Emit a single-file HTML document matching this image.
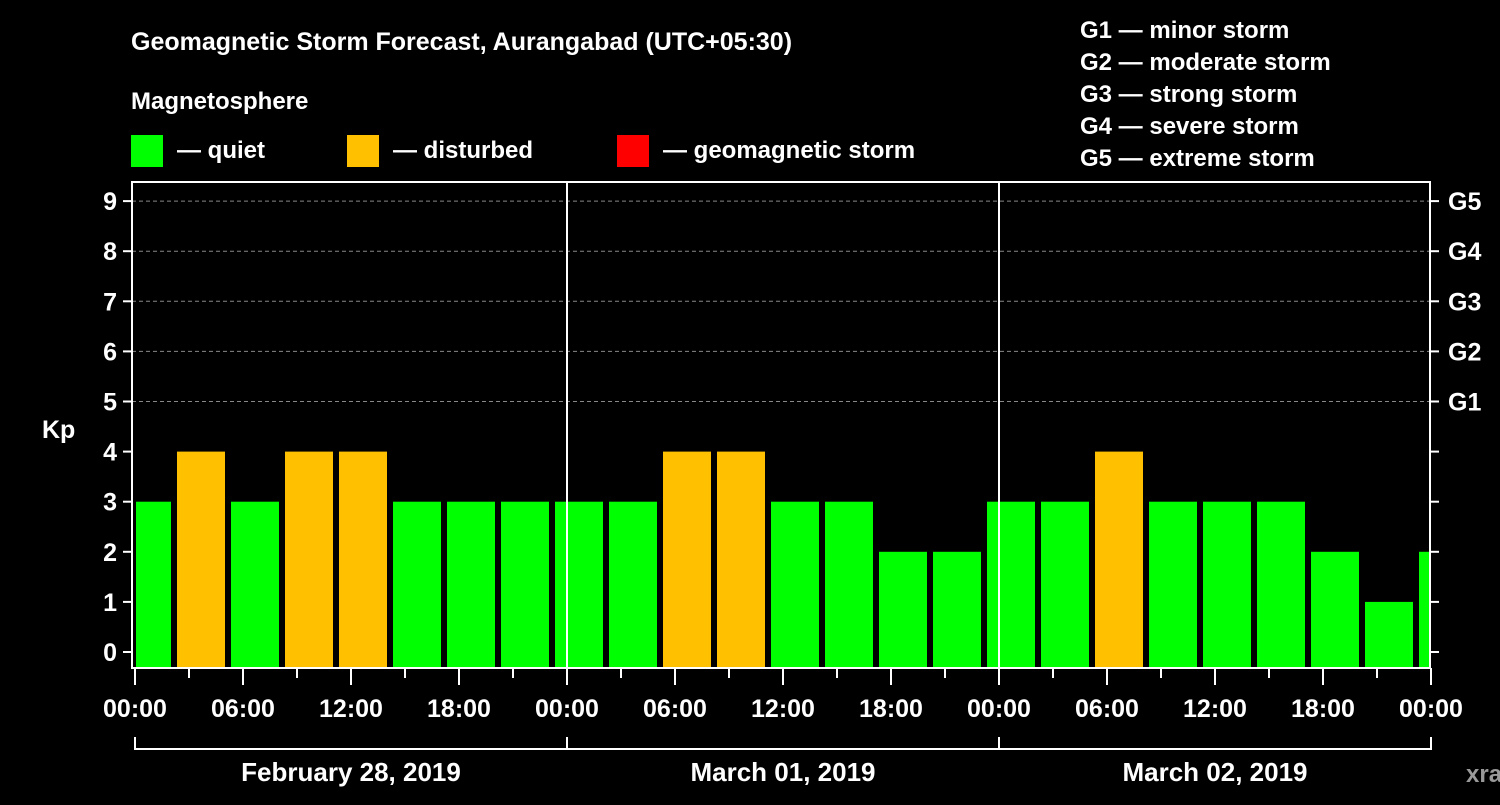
<!DOCTYPE html>
<html><head><meta charset="utf-8">
<style>
body{margin:0;background:#000;width:1500px;height:800px;overflow:hidden;font-family:"Liberation Sans",sans-serif;font-weight:bold;color:#fff}
svg text{font-family:"Liberation Sans",sans-serif;font-weight:bold;fill:#fff}
</style></head><body>
<svg width="1500" height="800">
<text x="131" y="50" font-size="25">Geomagnetic Storm Forecast, Aurangabad (UTC+05:30)</text>
<text x="131" y="109" font-size="24">Magnetosphere</text>
<g><rect x="131" y="135" width="32" height="32" fill="#00ff00"/><text x="177" y="158" font-size="24">— quiet</text></g>
<g><rect x="347" y="135" width="32" height="32" fill="#ffc000"/><text x="393" y="158" font-size="24">— disturbed</text></g>
<g><rect x="617" y="135" width="32" height="32" fill="#ff0000"/><text x="663" y="158" font-size="24">— geomagnetic storm</text></g>
<g font-size="24">
<text x="1080" y="38">G1 — minor storm</text>
<text x="1080" y="70">G2 — moderate storm</text>
<text x="1080" y="102">G3 — strong storm</text>
<text x="1080" y="134">G4 — severe storm</text>
<text x="1080" y="166">G5 — extreme storm</text>
</g>
<text x="42" y="438" font-size="25">Kp</text>
<text x="1466" y="782" font-size="24" fill="#888" style="fill:#999">xras.ru</text>
<g id="plot"></g>
</svg>
<script>
const kpValues=[3,4,3,4,4,3,3,3,3,3,4,4,3,3,2,2,3,3,4,3,3,3,2,1,2];
const yTicks=[0,1,2,3,4,5,6,7,8,9];
const gLabels=["G1","G2","G3","G4","G5"];
const xTickLabels=["00:00","06:00","12:00","18:00","00:00","06:00","12:00","18:00","00:00","06:00","12:00","18:00","00:00"];
const dayLabels=["February 28, 2019","March 01, 2019","March 02, 2019"];
const firstBarHour=-0.8333;
const ns="http://www.w3.org/2000/svg";
const g=document.getElementById('plot');
const L=132,R=1430,T=182,B=668;
const x0=135,pxH=18;
const X=h=>x0+h*pxH;
const Y=v=>652-v*50.1;
function el(t,a,p){const e=document.createElementNS(ns,t);for(const k in a)e.setAttribute(k,a[k]);(p||g).appendChild(e);return e;}
// grid
[5,6,7,8,9].forEach(v=>{const l=el('line',{x1:L,x2:R,y1:Y(v),y2:Y(v),stroke:'#888','stroke-dasharray':'4,3','stroke-width':1});

});
// bars
const clip=el('clipPath',{id:'pc'});el('rect',{x:136,y:T,width:R-136-1,height:B-T},clip);
const bg=el('g',{'clip-path':'url(#pc)'});
kpValues.forEach((v,i)=>{const s=firstBarHour+i*3;const xa=X(s)+3,xb=X(s+3)-3;
const r=el('rect',{x:xa,y:Y(v),width:xb-xa,height:B-Y(v),fill:v>=5?'#ff0000':v>=4?'#ffc000':'#00ff00'},bg);

});
// day separators
[24,48].forEach(h=>el('line',{x1:X(h),x2:X(h),y1:T,y2:B,stroke:'#fff','stroke-width':2}));
// frame
const f=el('rect',{x:L,y:T,width:R-L,height:B-T,fill:'none',stroke:'#fff','stroke-width':2});


// y ticks
yTicks.forEach(v=>{el('line',{x1:L-9,x2:L,y1:Y(v),y2:Y(v),stroke:'#fff','stroke-width':2});
el('line',{x1:R,x2:R+9,y1:Y(v),y2:Y(v),stroke:'#fff','stroke-width':2});
const t=el('text',{x:117,y:Y(v)+9,'font-size':25,'text-anchor':'end'});t.textContent=v;

});
gLabels.forEach((s,i)=>{const t=el('text',{x:1448,y:Y(5+i)+9,'font-size':25});t.textContent=s;

});
// x ticks
for(let h=0;h<=72;h+=3){const major=h%6===0;el('line',{x1:X(h),x2:X(h),y1:B,y2:B+(major?17:10),stroke:'#fff','stroke-width':2});}
xTickLabels.forEach((s,i)=>{const t=el('text',{x:X(i*6),y:717,'font-size':25,'text-anchor':'middle'});t.textContent=s;

});
el('line',{x1:X(0),x2:X(72),y1:749,y2:749,stroke:'#fff','stroke-width':2});
[0,24,48,72].forEach(h=>el('line',{x1:X(h),x2:X(h),y1:737,y2:750,stroke:'#fff','stroke-width':2}));
dayLabels.forEach((s,i)=>{const t=el('text',{x:X(i*24+12),y:781,'font-size':26,'text-anchor':'middle'});t.textContent=s;

});
</script>
</body></html>
